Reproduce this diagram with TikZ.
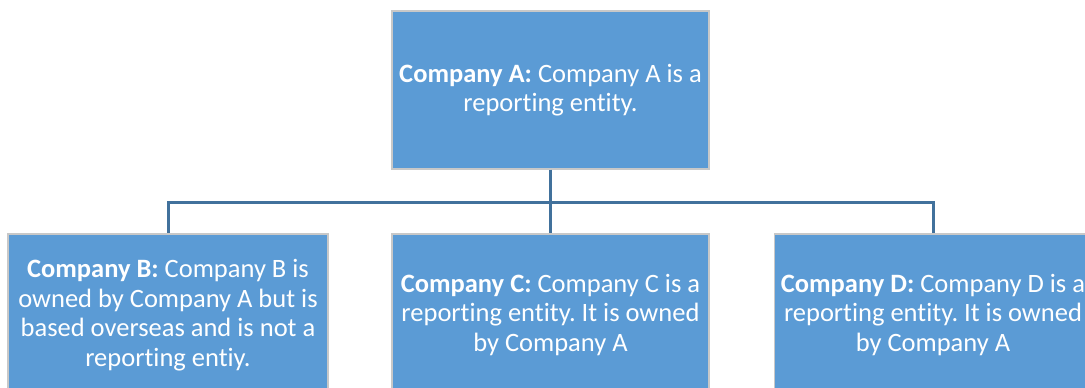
\documentclass[tikz,border=0pt]{standalone}
\usepackage{fontspec}
\setmainfont{Carlito}[Ligatures=NoCommon]
\usetikzlibrary{positioning}
\definecolor{boxfill}{HTML}{5B9BD5}
\definecolor{boxedge}{HTML}{C8C8C8}
\definecolor{linkcol}{HTML}{41719C}
\frenchspacing
\begin{document}
\begin{tikzpicture}[x=1pt,y=-1pt,
    company/.style={fill=boxfill,draw=boxedge,line width=1.2pt,text=white,
      align=center,inner sep=0pt,font=\fontsize{26.5}{29.5}\selectfont},
    link/.style={draw=linkcol,line width=3pt}]
  \useasboundingbox (0,0) rectangle (1085,388);
  \clip (0,0) rectangle (1085,388);
  % top box
  \node[company,minimum width=317pt,minimum height=158pt] (A) at (550.5,90)
    {\textbf{Company A:} Company A is a\\reporting entity.};
  % second row
  \node[company,minimum width=320pt,minimum height=162pt] (B) at (168,315)
    {\textbf{Company B:} Company B is\\owned by Company A but is\\based overseas and is not a\\reporting entiy.};
  \node[company,minimum width=317pt,minimum height=162pt] (C) at (550.5,315)
    {\textbf{Company C:} Company C is a\\reporting entity. It is owned\\by Company A};
  \node[company,minimum width=317pt,minimum height=162pt] (D) at (933,315)
    {\textbf{Company D:} Company D is a\\reporting entity. It is owned\\by Company A};
  % connectors
  \coordinate (bus) at (550.5,202);
  \draw[link] (A.south) -- (bus);
  \draw[link] (bus) -| (B.north);
  \draw[link] (bus) -- (C.north);
  \draw[link] (bus) -| (D.north);
\end{tikzpicture}
\end{document}
